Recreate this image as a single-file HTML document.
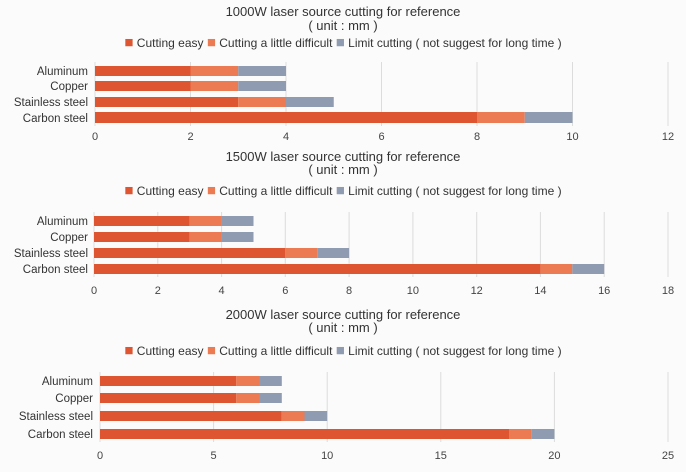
<!DOCTYPE html><html><head><style>body{margin:0;background:#fff}svg{display:block;font-family:"Liberation Sans",sans-serif}</style></head><body>
<svg width="686" height="472" viewBox="0 0 686 472">
<rect width="686" height="472" fill="#fbfbfb"/>
<defs><style>.t{font-size:13px;fill:#333;text-anchor:middle}.l{font-size:12px;fill:#333;text-anchor:middle}.q{font-size:15px}.y{font-size:11.5px;fill:#333;text-anchor:end}.x{font-size:11px;fill:#444;text-anchor:middle}.g{stroke:#dcdcdc;stroke-width:1}.a{fill:#dd5631}.b{fill:#ec7a52}.c{fill:#8e9bb0}</style></defs>
<!-- Chart 1 -->
<text class="t" x="343" y="16">1000W laser source cutting for reference</text>
<text class="t" x="343" y="30">( unit : mm )</text>
<text class="l" x="343" y="47"><tspan class="a q">■</tspan> Cutting easy <tspan class="b q">■</tspan> Cutting a little difficult <tspan class="c q">■</tspan> Limit cutting ( not suggest for long time )</text>
<g class="g"><line x1="95" y1="62" x2="95" y2="126"/><line x1="190.5" y1="62" x2="190.5" y2="126"/><line x1="286" y1="62" x2="286" y2="126"/><line x1="381.5" y1="62" x2="381.5" y2="126"/><line x1="477" y1="62" x2="477" y2="126"/><line x1="572.5" y1="62" x2="572.5" y2="126"/><line x1="668" y1="62" x2="668" y2="126"/></g>
<text class="y" x="88" y="75">Aluminum</text><text class="y" x="88" y="90">Copper</text><text class="y" x="88" y="106">Stainless steel</text><text class="y" x="88" y="122">Carbon steel</text>
<rect class="a" x="95" y="66" width="95.5" height="10"/><rect class="b" x="190.5" y="66" width="47.75" height="10"/><rect class="c" x="238.25" y="66" width="47.75" height="10"/>
<rect class="a" x="95" y="81" width="95.5" height="10"/><rect class="b" x="190.5" y="81" width="47.75" height="10"/><rect class="c" x="238.25" y="81" width="47.75" height="10"/>
<rect class="a" x="95" y="97" width="143.25" height="10"/><rect class="b" x="238.25" y="97" width="47.75" height="10"/><rect class="c" x="286" y="97" width="47.75" height="10"/>
<rect class="a" x="95" y="112" width="382" height="11"/><rect class="b" x="477" y="112" width="47.75" height="11"/><rect class="c" x="524.75" y="112" width="47.75" height="11"/>
<text class="x" x="95" y="140">0</text><text class="x" x="190.5" y="140">2</text><text class="x" x="286" y="140">4</text><text class="x" x="381.5" y="140">6</text><text class="x" x="477" y="140">8</text><text class="x" x="572.5" y="140">10</text><text class="x" x="668" y="140">12</text>
<!-- Chart 2 -->
<text class="t" x="343" y="161">1500W laser source cutting for reference</text>
<text class="t" x="343" y="174">( unit : mm )</text>
<text class="l" x="343" y="195"><tspan class="a q">■</tspan> Cutting easy <tspan class="b q">■</tspan> Cutting a little difficult <tspan class="c q">■</tspan> Limit cutting ( not suggest for long time )</text>
<g class="g"><line x1="94" y1="212" x2="94" y2="277"/><line x1="157.8" y1="212" x2="157.8" y2="277"/><line x1="221.6" y1="212" x2="221.6" y2="277"/><line x1="285.3" y1="212" x2="285.3" y2="277"/><line x1="349.1" y1="212" x2="349.1" y2="277"/><line x1="412.9" y1="212" x2="412.9" y2="277"/><line x1="476.7" y1="212" x2="476.7" y2="277"/><line x1="540.4" y1="212" x2="540.4" y2="277"/><line x1="604.2" y1="212" x2="604.2" y2="277"/><line x1="668" y1="212" x2="668" y2="277"/></g>
<text class="y" x="88" y="225">Aluminum</text><text class="y" x="88" y="241">Copper</text><text class="y" x="88" y="257">Stainless steel</text><text class="y" x="88" y="273">Carbon steel</text>
<rect class="a" x="94" y="216" width="95.7" height="10"/><rect class="b" x="189.7" y="216" width="31.9" height="10"/><rect class="c" x="221.6" y="216" width="31.9" height="10"/>
<rect class="a" x="94" y="232" width="95.7" height="10"/><rect class="b" x="189.7" y="232" width="31.9" height="10"/><rect class="c" x="221.6" y="232" width="31.9" height="10"/>
<rect class="a" x="94" y="248" width="191.3" height="10"/><rect class="b" x="285.3" y="248" width="31.9" height="10"/><rect class="c" x="317.2" y="248" width="31.9" height="10"/>
<rect class="a" x="94" y="264" width="446.4" height="10"/><rect class="b" x="540.4" y="264" width="31.9" height="10"/><rect class="c" x="572.3" y="264" width="31.9" height="10"/>
<text class="x" x="94" y="294">0</text><text class="x" x="157.8" y="294">2</text><text class="x" x="221.6" y="294">4</text><text class="x" x="285.3" y="294">6</text><text class="x" x="349.1" y="294">8</text><text class="x" x="412.9" y="294">10</text><text class="x" x="476.7" y="294">12</text><text class="x" x="540.4" y="294">14</text><text class="x" x="604.2" y="294">16</text><text class="x" x="668" y="294">18</text>
<!-- Chart 3 -->
<text class="t" x="343" y="319">2000W laser source cutting for reference</text>
<text class="t" x="343" y="332">( unit : mm )</text>
<text class="l" x="343" y="355"><tspan class="a q">■</tspan> Cutting easy <tspan class="b q">■</tspan> Cutting a little difficult <tspan class="c q">■</tspan> Limit cutting ( not suggest for long time )</text>
<g class="g"><line x1="100" y1="372" x2="100" y2="442"/><line x1="213.6" y1="372" x2="213.6" y2="442"/><line x1="327.2" y1="372" x2="327.2" y2="442"/><line x1="440.8" y1="372" x2="440.8" y2="442"/><line x1="554.4" y1="372" x2="554.4" y2="442"/><line x1="668" y1="372" x2="668" y2="442"/></g>
<text class="y" x="93" y="385">Aluminum</text><text class="y" x="93" y="402">Copper</text><text class="y" x="93" y="420">Stainless steel</text><text class="y" x="93" y="438">Carbon steel</text>
<rect class="a" x="100" y="376" width="136.3" height="10"/><rect class="b" x="236.3" y="376" width="22.7" height="10"/><rect class="c" x="259" y="376" width="22.8" height="10"/>
<rect class="a" x="100" y="393" width="136.3" height="10"/><rect class="b" x="236.3" y="393" width="22.7" height="10"/><rect class="c" x="259" y="393" width="22.8" height="10"/>
<rect class="a" x="100" y="411" width="181.8" height="10"/><rect class="b" x="281.8" y="411" width="22.7" height="10"/><rect class="c" x="304.5" y="411" width="22.7" height="10"/>
<rect class="a" x="100" y="429" width="409" height="10"/><rect class="b" x="509" y="429" width="22.7" height="10"/><rect class="c" x="531.7" y="429" width="22.7" height="10"/>
<text class="x" x="100" y="459">0</text><text class="x" x="213.6" y="459">5</text><text class="x" x="327.2" y="459">10</text><text class="x" x="440.8" y="459">15</text><text class="x" x="554.4" y="459">20</text><text class="x" x="668" y="459">25</text>
</svg></body></html>
